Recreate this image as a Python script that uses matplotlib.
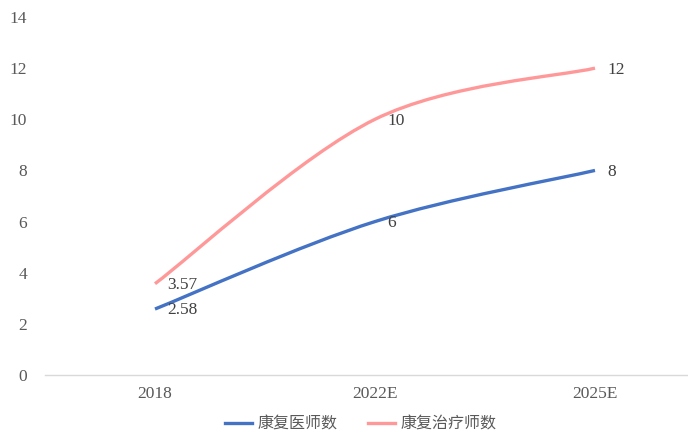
import matplotlib
matplotlib.use("Agg")
import matplotlib.pyplot as plt
from matplotlib.path import Path
from matplotlib.patches import PathPatch
from matplotlib.lines import Line2D

years = ["2018", "2022E", "2025E"]
doctors = [2.58, 6, 8]
therapists = [3.57, 10, 12]
series_names = ["康复医师数", "康复治疗师数"]
label_text = {"doctors": ["2.58", "6", "8"], "therapists": ["3.57", "10", "12"]}

BLUE = "#4472C4"
PINK = "#FF9999"
SERIF = ["Liberation Serif", "DejaVu Serif"]


def smooth_path(xs, ys):
    # excel-style smoothed line: cubic bezier through the points
    pts = list(zip(xs, ys))
    verts = [pts[0]]
    codes = [Path.MOVETO]
    n = len(pts)
    for i in range(n - 1):
        p0 = pts[i - 1] if i > 0 else pts[i]
        p1 = pts[i]
        p2 = pts[i + 1]
        p3 = pts[i + 2] if i + 2 < n else pts[i + 1]
        c1 = (p1[0] + (p2[0] - p0[0]) / 6, p1[1] + (p2[1] - p0[1]) / 6)
        c2 = (p2[0] - (p3[0] - p1[0]) / 6, p2[1] - (p3[1] - p1[1]) / 6)
        verts += [c1, c2, p2]
        codes += [Path.CURVE4] * 3
    return Path(verts, codes)


fig = plt.figure(figsize=(6.88, 4.34), dpi=100)
ax = fig.add_axes([45 / 688, 59 / 434, 660 / 688, 358 / 434])

x = list(range(len(years)))
for vals, color, key in [(doctors, BLUE, "doctors"), (therapists, PINK, "therapists")]:
    patch = PathPatch(smooth_path(x, vals), facecolor="none", edgecolor=color,
                      lw=2.4, capstyle="butt", zorder=3)
    ax.add_patch(patch)
    for xi, yi, t in zip(x, vals, label_text[key]):
        ax.annotate(t, (xi, yi), xytext=(9, -1), textcoords="offset points",
                    ha="left", va="center", fontsize=12.5, color="#404040",
                    family=SERIF, zorder=4)

ax.set_xlim(-0.5, 2.5)
ax.set_ylim(0, 14)
ax.set_yticks(range(0, 15, 2))
ax.set_xticks(x)
ax.set_xticklabels(years)

for side in ["top", "right", "left"]:
    ax.spines[side].set_visible(False)
ax.spines["bottom"].set_color("#D9D9D9")
ax.spines["bottom"].set_linewidth(1.0)
ax.tick_params(axis="both", length=0, labelsize=12.5, labelcolor="#595959")
ax.tick_params(axis="y", pad=13)
ax.tick_params(axis="x", pad=8)
for lab in ax.get_xticklabels() + ax.get_yticklabels():
    lab.set_family(SERIF)

handles = [Line2D([], [], color=BLUE, lw=2.4), Line2D([], [], color=PINK, lw=2.4)]
fig.legend(handles, series_names, loc="center", bbox_to_anchor=(361 / 688, 1 - 424 / 434),
           ncol=2, frameon=False, handlelength=1.7, handletextpad=0.35, columnspacing=1.9,
           prop={"family": ["Noto Sans CJK SC", "DejaVu Sans"], "size": 11.5},
           labelcolor="#595959")

fig.savefig("out.png", dpi=100)
